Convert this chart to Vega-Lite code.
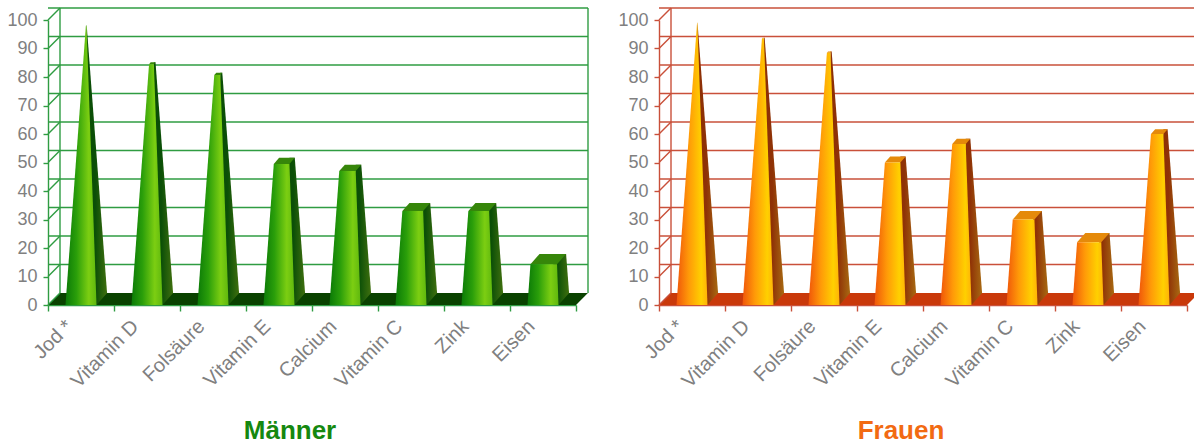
{
"$schema":"https://vega.github.io/schema/vega-lite/v6.json",
"background":"white",
"padding":{"left":6,"top":7,"right":0,"bottom":0},
"spacing":83,
"bounds":"flush",
"config":{"view":{"stroke":null},"axis":{"labelFont":"Liberation Sans","labelFontSize":18,"labelColor":"#808080","title":null},"axisY":{"tickCount":11,"labelOverlap":false}},
"datasets":{
"maenner":[{"name":"Jod *","wert":98},{"name":"Vitamin D","wert":84.5},{"name":"Folsäure","wert":80.7},{"name":"Vitamin E","wert":49.5},{"name":"Calcium","wert":47},{"name":"Vitamin C","wert":33},{"name":"Zink","wert":33},{"name":"Eisen","wert":14.3}],
"frauen":[{"name":"Jod *","wert":99},{"name":"Vitamin D","wert":93.5},{"name":"Folsäure","wert":88.5},{"name":"Vitamin E","wert":50},{"name":"Calcium","wert":56.5},{"name":"Vitamin C","wert":30},{"name":"Zink","wert":22},{"name":"Eisen","wert":60}],
"stufen":[{"stufe":10},{"stufe":20},{"stufe":30},{"stufe":40},{"stufe":50},{"stufe":60},{"stufe":70},{"stufe":80},{"stufe":90},{"stufe":100}],
"stufenNull":[{"stufe":0},{"stufe":10},{"stufe":20},{"stufe":30},{"stufe":40},{"stufe":50},{"stufe":60},{"stufe":70},{"stufe":80},{"stufe":90},{"stufe":100}],
"boden":[{"tiefe":0,"von":0,"bis":8},{"tiefe":4.21,"von":0.18,"bis":8.18}]
},
"hconcat":[
{"width":528,"height":285,
"title":{"text":"Männer","orient":"bottom","anchor":"middle","dx":-22,"offset":27,"font":"Liberation Sans","fontSize":26,"fontWeight":"bold","color":"#15880f"},
"layer":[
{"data":{"name":"boden"},"mark":{"type":"area","orient":"horizontal","color":"#0a4200"},"encoding":{
"x":{"field":"von","type":"quantitative","scale":{"domain":[0,8],"nice":false},"axis":{"values":[0,1,2,3,4,5,6,7,8],"grid":false,"domainColor":"#2f9c42","tickColor":"#2f9c42","tickSize":6,"domainWidth":1.4,"tickWidth":1.4,"labelAngle":-45,"labelAlign":"right","labelBaseline":"middle","labelOffset":21,"labelPadding":12,"labelFontSize":20,"labelOverlap":false,"labelExpr":"['Jod *','Vitamin D','Folsäure','Vitamin E','Calcium','Vitamin C','Zink','Eisen'][datum.value]||''"}},
"x2":{"field":"bis"},
"y":{"field":"tiefe","type":"quantitative","scale":{"domain":[0,100],"nice":false},"axis":{"values":[0,10,20,30,40,50,60,70,80,90,100],"grid":false,"domainColor":"#2f9c42","tickColor":"#2f9c42","tickSize":5,"domainWidth":1.4,"tickWidth":1.4,"labelPadding":6,"labelOverlap":false}}}},
{"data":{"name":"stufen"},"mark":{"type":"rule","color":"#2f9c42","strokeWidth":1.4,"xOffset":12,"x2Offset":12,"yOffset":-12},"encoding":{"y":{"field":"stufe","type":"quantitative","scale":{"domain":[0,100],"nice":false}}}},
{"data":{"name":"stufenNull"},"mark":{"type":"rule","color":"#2f9c42","strokeWidth":1.4,"x2Offset":12,"y2Offset":-12},"encoding":{"x":{"datum":0,"type":"quantitative","scale":{"domain":[0,8],"nice":false}},"x2":{"datum":0},"y":{"field":"stufe","type":"quantitative","scale":{"domain":[0,100],"nice":false}},"y2":{"field":"stufe"}}},
{"data":{"values":[{"kante":0},{"kante":8}]},"mark":{"type":"rule","color":"#2f9c42","strokeWidth":1.4,"xOffset":12,"yOffset":-12,"y2Offset":-12},"encoding":{"x":{"field":"kante","type":"quantitative","scale":{"domain":[0,8],"nice":false}},"y":{"datum":0,"type":"quantitative","scale":{"domain":[0,100],"nice":false}},"y2":{"datum":100}}},
{"data":{"name":"maenner"},
"transform":[{"window":[{"op":"row_number","as":"nr"}]},{"calculate":"datum.nr-0.5","as":"c"},{"calculate":"1-datum.wert/100","as":"f"},{"calculate":"datum.c+0.08*datum.wert/100+0.235*datum.f","as":"vr"},{"calculate":"[{h:0,a:datum.c+0.235,b:datum.c+0.235},{h:4.21,a:datum.c,b:datum.c+0.395},{h:datum.wert+4.21*datum.f,a:datum.vr,b:datum.vr+0.16*datum.f}]","as":"form"},{"flatten":["form"]}],
"mark":{"type":"area","orient":"horizontal","color":{"gradient":"linear","x1":0,"x2":1,"y1":0,"y2":0,"stops":[{"offset":0,"color":"#0a4a06"},{"offset":0.55,"color":"#0b4f07"},{"offset":1,"color":"#40700f"}]}},
"encoding":{"x":{"field":"form.a","type":"quantitative","scale":{"domain":[0,8],"nice":false}},"x2":{"field":"form.b"},"y":{"field":"form.h","type":"quantitative","scale":{"domain":[0,100],"nice":false}},"detail":{"field":"name"}}},
{"data":{"name":"maenner"},
"transform":[{"window":[{"op":"row_number","as":"nr"}]},{"calculate":"datum.nr-0.5","as":"c"},{"calculate":"1-datum.wert/100","as":"f"},{"calculate":"datum.c+0.08*datum.wert/100","as":"m"},{"calculate":"[{h:datum.wert,a:datum.m-0.235*datum.f,b:datum.m+0.235*datum.f},{h:datum.wert+4.21*datum.f,a:datum.m-0.235*datum.f+0.16*datum.f,b:datum.m+0.235*datum.f+0.16*datum.f}]","as":"form"},{"flatten":["form"]}],
"mark":{"type":"area","orient":"horizontal","color":"#36860a"},
"encoding":{"x":{"field":"form.a","type":"quantitative","scale":{"domain":[0,8],"nice":false}},"x2":{"field":"form.b"},"y":{"field":"form.h","type":"quantitative","scale":{"domain":[0,100],"nice":false}},"detail":{"field":"name"}}},
{"data":{"name":"maenner"},
"transform":[{"window":[{"op":"row_number","as":"nr"}]},{"calculate":"datum.nr-0.5","as":"c"},{"calculate":"1-datum.wert/100","as":"f"},{"calculate":"datum.c+0.08*datum.wert/100","as":"m"},{"calculate":"[{h:0,a:datum.c-0.235,b:datum.c+0.235},{h:datum.wert,a:datum.m-0.235*datum.f,b:datum.m+0.235*datum.f}]","as":"form"},{"flatten":["form"]}],
"mark":{"type":"area","orient":"horizontal","color":{"gradient":"linear","x1":0,"x2":1,"y1":0,"y2":0,"stops":[{"offset":0,"color":"#0b7a07"},{"offset":0.35,"color":"#2a9e0a"},{"offset":0.75,"color":"#7cce12"},{"offset":1,"color":"#5fb80e"}]}},
"encoding":{"x":{"field":"form.a","type":"quantitative","scale":{"domain":[0,8],"nice":false}},"x2":{"field":"form.b"},"y":{"field":"form.h","type":"quantitative","scale":{"domain":[0,100],"nice":false}},"detail":{"field":"name"}}}
]},
{"width":528,"height":285,
"title":{"text":"Frauen","orient":"bottom","anchor":"middle","dx":-22,"offset":27,"font":"Liberation Sans","fontSize":26,"fontWeight":"bold","color":"#f26a12"},
"layer":[
{"data":{"name":"boden"},"mark":{"type":"area","orient":"horizontal","color":"#c9390a"},"encoding":{
"x":{"field":"von","type":"quantitative","scale":{"domain":[0,8],"nice":false},"axis":{"values":[0,1,2,3,4,5,6,7,8],"grid":false,"domainColor":"#c9503a","tickColor":"#c9503a","tickSize":6,"domainWidth":1.4,"tickWidth":1.4,"labelAngle":-45,"labelAlign":"right","labelBaseline":"middle","labelOffset":21,"labelPadding":12,"labelFontSize":20,"labelOverlap":false,"labelExpr":"['Jod *','Vitamin D','Folsäure','Vitamin E','Calcium','Vitamin C','Zink','Eisen'][datum.value]||''"}},
"x2":{"field":"bis"},
"y":{"field":"tiefe","type":"quantitative","scale":{"domain":[0,100],"nice":false},"axis":{"values":[0,10,20,30,40,50,60,70,80,90,100],"grid":false,"domainColor":"#c9503a","tickColor":"#c9503a","tickSize":5,"domainWidth":1.4,"tickWidth":1.4,"labelPadding":6,"labelOverlap":false}}}},
{"data":{"name":"stufen"},"mark":{"type":"rule","color":"#c9503a","strokeWidth":1.4,"xOffset":12,"x2Offset":12,"yOffset":-12},"encoding":{"y":{"field":"stufe","type":"quantitative","scale":{"domain":[0,100],"nice":false}}}},
{"data":{"name":"stufenNull"},"mark":{"type":"rule","color":"#c9503a","strokeWidth":1.4,"x2Offset":12,"y2Offset":-12},"encoding":{"x":{"datum":0,"type":"quantitative","scale":{"domain":[0,8],"nice":false}},"x2":{"datum":0},"y":{"field":"stufe","type":"quantitative","scale":{"domain":[0,100],"nice":false}},"y2":{"field":"stufe"}}},
{"data":{"values":[{"kante":0},{"kante":8}]},"mark":{"type":"rule","color":"#c9503a","strokeWidth":1.4,"xOffset":12,"yOffset":-12,"y2Offset":-12},"encoding":{"x":{"field":"kante","type":"quantitative","scale":{"domain":[0,8],"nice":false}},"y":{"datum":0,"type":"quantitative","scale":{"domain":[0,100],"nice":false}},"y2":{"datum":100}}},
{"data":{"name":"frauen"},
"transform":[{"window":[{"op":"row_number","as":"nr"}]},{"calculate":"datum.nr-0.5","as":"c"},{"calculate":"1-datum.wert/100","as":"f"},{"calculate":"datum.c+0.08*datum.wert/100+0.235*datum.f","as":"vr"},{"calculate":"[{h:0,a:datum.c+0.235,b:datum.c+0.235},{h:4.21,a:datum.c,b:datum.c+0.395},{h:datum.wert+4.21*datum.f,a:datum.vr,b:datum.vr+0.16*datum.f}]","as":"form"},{"flatten":["form"]}],
"mark":{"type":"area","orient":"horizontal","color":{"gradient":"linear","x1":0,"x2":1,"y1":0,"y2":0,"stops":[{"offset":0,"color":"#8a2c06"},{"offset":0.55,"color":"#8f3206"},{"offset":1,"color":"#a86a12"}]}},
"encoding":{"x":{"field":"form.a","type":"quantitative","scale":{"domain":[0,8],"nice":false}},"x2":{"field":"form.b"},"y":{"field":"form.h","type":"quantitative","scale":{"domain":[0,100],"nice":false}},"detail":{"field":"name"}}},
{"data":{"name":"frauen"},
"transform":[{"window":[{"op":"row_number","as":"nr"}]},{"calculate":"datum.nr-0.5","as":"c"},{"calculate":"1-datum.wert/100","as":"f"},{"calculate":"datum.c+0.08*datum.wert/100","as":"m"},{"calculate":"[{h:datum.wert,a:datum.m-0.235*datum.f,b:datum.m+0.235*datum.f},{h:datum.wert+4.21*datum.f,a:datum.m-0.235*datum.f+0.16*datum.f,b:datum.m+0.235*datum.f+0.16*datum.f}]","as":"form"},{"flatten":["form"]}],
"mark":{"type":"area","orient":"horizontal","color":"#e58a0a"},
"encoding":{"x":{"field":"form.a","type":"quantitative","scale":{"domain":[0,8],"nice":false}},"x2":{"field":"form.b"},"y":{"field":"form.h","type":"quantitative","scale":{"domain":[0,100],"nice":false}},"detail":{"field":"name"}}},
{"data":{"name":"frauen"},
"transform":[{"window":[{"op":"row_number","as":"nr"}]},{"calculate":"datum.nr-0.5","as":"c"},{"calculate":"1-datum.wert/100","as":"f"},{"calculate":"datum.c+0.08*datum.wert/100","as":"m"},{"calculate":"[{h:0,a:datum.c-0.235,b:datum.c+0.235},{h:datum.wert,a:datum.m-0.235*datum.f,b:datum.m+0.235*datum.f}]","as":"form"},{"flatten":["form"]}],
"mark":{"type":"area","orient":"horizontal","color":{"gradient":"linear","x1":0,"x2":1,"y1":0,"y2":0,"stops":[{"offset":0,"color":"#f0560a"},{"offset":0.4,"color":"#ff9a08"},{"offset":0.8,"color":"#ffd000"},{"offset":1,"color":"#ffb208"}]}},
"encoding":{"x":{"field":"form.a","type":"quantitative","scale":{"domain":[0,8],"nice":false}},"x2":{"field":"form.b"},"y":{"field":"form.h","type":"quantitative","scale":{"domain":[0,100],"nice":false}},"detail":{"field":"name"}}}
]}
]}
